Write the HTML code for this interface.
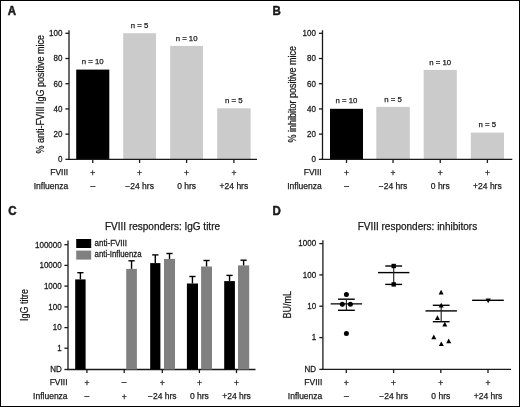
<!DOCTYPE html>
<html><head><meta charset="utf-8"><style>
html,body{margin:0;padding:0;background:#fff;}
#f{position:relative;width:518px;height:405px;border:1px solid #000;overflow:hidden;background:#fff;}
svg{position:absolute;left:-1px;top:-1px;filter:grayscale(1);}
svg text{font-family:"Liberation Sans", sans-serif;fill:#1a1a1a;stroke:#1a1a1a;stroke-width:0.25px;font-variant-ligatures:none;font-kerning:none;}
</style></head><body><div id="f">
<svg width="520" height="407" viewBox="0 0 520 407">
<text transform="translate(7.8,14.8) scale(1.0,1.05)" font-size="11.5" text-anchor="start" font-weight="bold" style="stroke-width:0.45px">A</text>
<text transform="translate(272.4,14.8) scale(1.0,1.05)" font-size="11.5" text-anchor="start" font-weight="bold" style="stroke-width:0.45px">B</text>
<text transform="translate(8.2,214.8) scale(1.0,1.05)" font-size="11.5" text-anchor="start" font-weight="bold" style="stroke-width:0.45px">C</text>
<text transform="translate(272.4,214.8) scale(1.0,1.05)" font-size="11.5" text-anchor="start" font-weight="bold" style="stroke-width:0.45px">D</text>
<rect x="76.2" y="69.6" width="33.1" height="89.75" fill="#000"/>
<text transform="translate(92.75,64.2) scale(1.0,1.0)" font-size="7.8" text-anchor="middle" font-weight="normal" >n = 10</text>
<rect x="123.2" y="33.2" width="32.8" height="126.15" fill="#cbcbcb"/>
<text transform="translate(139.6,27.8) scale(1.0,1.0)" font-size="7.8" text-anchor="middle" font-weight="normal" >n = 5</text>
<rect x="170.2" y="45.9" width="32.8" height="113.45" fill="#cbcbcb"/>
<text transform="translate(186.6,40.5) scale(1.0,1.0)" font-size="7.8" text-anchor="middle" font-weight="normal" >n = 10</text>
<rect x="217.2" y="108.3" width="33.4" height="51.05" fill="#cbcbcb"/>
<text transform="translate(233.9,102.9) scale(1.0,1.0)" font-size="7.8" text-anchor="middle" font-weight="normal" >n = 5</text>
<line x1="69" y1="30.3" x2="69" y2="159.85" stroke="#1a1a1a" stroke-width="1.3"/>
<line x1="65.4" y1="159.35" x2="69" y2="159.35" stroke="#1a1a1a" stroke-width="1.3"/>
<text transform="translate(62.4,162.15) scale(1.0,1.05)" font-size="8" text-anchor="end" font-weight="normal" >0</text>
<line x1="65.4" y1="134.14" x2="69" y2="134.14" stroke="#1a1a1a" stroke-width="1.3"/>
<text transform="translate(62.4,136.94) scale(1.0,1.05)" font-size="8" text-anchor="end" font-weight="normal" >20</text>
<line x1="65.4" y1="108.93" x2="69" y2="108.93" stroke="#1a1a1a" stroke-width="1.3"/>
<text transform="translate(62.4,111.73) scale(1.0,1.05)" font-size="8" text-anchor="end" font-weight="normal" >40</text>
<line x1="65.4" y1="83.72" x2="69" y2="83.72" stroke="#1a1a1a" stroke-width="1.3"/>
<text transform="translate(62.4,86.52) scale(1.0,1.05)" font-size="8" text-anchor="end" font-weight="normal" >60</text>
<line x1="65.4" y1="58.51" x2="69" y2="58.51" stroke="#1a1a1a" stroke-width="1.3"/>
<text transform="translate(62.4,61.31) scale(1.0,1.05)" font-size="8" text-anchor="end" font-weight="normal" >80</text>
<line x1="65.4" y1="33.3" x2="69" y2="33.3" stroke="#1a1a1a" stroke-width="1.3"/>
<text transform="translate(62.4,36.1) scale(1.0,1.05)" font-size="8" text-anchor="end" font-weight="normal" >100</text>
<line x1="68.4" y1="159.35" x2="257" y2="159.35" stroke="#1a1a1a" stroke-width="1.3"/>
<line x1="92.75" y1="159.35" x2="92.75" y2="162.95" stroke="#1a1a1a" stroke-width="1.3"/>
<text transform="translate(92.75,176.0) scale(1.0,1.0)" font-size="8.5" text-anchor="middle" font-weight="normal" >+</text>
<text transform="translate(92.75,188.6) scale(1.0,1.0)" font-size="8.5" text-anchor="middle" font-weight="normal" >–</text>
<line x1="139.6" y1="159.35" x2="139.6" y2="162.95" stroke="#1a1a1a" stroke-width="1.3"/>
<text transform="translate(139.6,176.0) scale(1.0,1.0)" font-size="8.5" text-anchor="middle" font-weight="normal" >+</text>
<text transform="translate(139.6,188.6) scale(1.0,1.0)" font-size="8.5" text-anchor="middle" font-weight="normal" >−24 hrs</text>
<line x1="186.6" y1="159.35" x2="186.6" y2="162.95" stroke="#1a1a1a" stroke-width="1.3"/>
<text transform="translate(186.6,176.0) scale(1.0,1.0)" font-size="8.5" text-anchor="middle" font-weight="normal" >+</text>
<text transform="translate(186.6,188.6) scale(1.0,1.0)" font-size="8.5" text-anchor="middle" font-weight="normal" >0 hrs</text>
<line x1="233.9" y1="159.35" x2="233.9" y2="162.95" stroke="#1a1a1a" stroke-width="1.3"/>
<text transform="translate(233.9,176.0) scale(1.0,1.0)" font-size="8.5" text-anchor="middle" font-weight="normal" >+</text>
<text transform="translate(233.9,188.6) scale(1.0,1.0)" font-size="8.5" text-anchor="middle" font-weight="normal" >+24 hrs</text>
<text transform="translate(68.2,175.0) scale(1.0,1.0)" font-size="8.5" text-anchor="end" font-weight="normal" >FVIII</text>
<text transform="translate(68.2,188.6) scale(1.0,1.0)" font-size="8.5" text-anchor="end" font-weight="normal" >Influenza</text>
<text transform="translate(43.8,94.2) rotate(-90) scale(0.9,1)" font-size="10" text-anchor="middle">% anti-FVIII IgG positive mice</text>
<rect x="330.0" y="108.8" width="33.0" height="50.55" fill="#000"/>
<text transform="translate(346.5,103.4) scale(1.0,1.0)" font-size="7.8" text-anchor="middle" font-weight="normal" >n = 10</text>
<rect x="376.3" y="106.9" width="33.5" height="52.45" fill="#cbcbcb"/>
<text transform="translate(393.05,101.5) scale(1.0,1.0)" font-size="7.8" text-anchor="middle" font-weight="normal" >n = 5</text>
<rect x="423.7" y="69.9" width="33.1" height="89.45" fill="#cbcbcb"/>
<text transform="translate(440.25,64.5) scale(1.0,1.0)" font-size="7.8" text-anchor="middle" font-weight="normal" >n = 10</text>
<rect x="470.8" y="132.6" width="33.2" height="26.75" fill="#cbcbcb"/>
<text transform="translate(487.4,127.2) scale(1.0,1.0)" font-size="7.8" text-anchor="middle" font-weight="normal" >n = 5</text>
<line x1="322.5" y1="30.3" x2="322.5" y2="159.85" stroke="#1a1a1a" stroke-width="1.3"/>
<line x1="318.9" y1="159.35" x2="322.5" y2="159.35" stroke="#1a1a1a" stroke-width="1.3"/>
<text transform="translate(315.9,162.15) scale(1.0,1.05)" font-size="8" text-anchor="end" font-weight="normal" >0</text>
<line x1="318.9" y1="134.14" x2="322.5" y2="134.14" stroke="#1a1a1a" stroke-width="1.3"/>
<text transform="translate(315.9,136.94) scale(1.0,1.05)" font-size="8" text-anchor="end" font-weight="normal" >20</text>
<line x1="318.9" y1="108.93" x2="322.5" y2="108.93" stroke="#1a1a1a" stroke-width="1.3"/>
<text transform="translate(315.9,111.73) scale(1.0,1.05)" font-size="8" text-anchor="end" font-weight="normal" >40</text>
<line x1="318.9" y1="83.72" x2="322.5" y2="83.72" stroke="#1a1a1a" stroke-width="1.3"/>
<text transform="translate(315.9,86.52) scale(1.0,1.05)" font-size="8" text-anchor="end" font-weight="normal" >60</text>
<line x1="318.9" y1="58.51" x2="322.5" y2="58.51" stroke="#1a1a1a" stroke-width="1.3"/>
<text transform="translate(315.9,61.31) scale(1.0,1.05)" font-size="8" text-anchor="end" font-weight="normal" >80</text>
<line x1="318.9" y1="33.3" x2="322.5" y2="33.3" stroke="#1a1a1a" stroke-width="1.3"/>
<text transform="translate(315.9,36.1) scale(1.0,1.05)" font-size="8" text-anchor="end" font-weight="normal" >100</text>
<line x1="321.9" y1="159.35" x2="512.3" y2="159.35" stroke="#1a1a1a" stroke-width="1.3"/>
<line x1="346.5" y1="159.35" x2="346.5" y2="162.95" stroke="#1a1a1a" stroke-width="1.3"/>
<text transform="translate(346.5,176.0) scale(1.0,1.0)" font-size="8.5" text-anchor="middle" font-weight="normal" >+</text>
<text transform="translate(346.5,188.6) scale(1.0,1.0)" font-size="8.5" text-anchor="middle" font-weight="normal" >–</text>
<line x1="393.05" y1="159.35" x2="393.05" y2="162.95" stroke="#1a1a1a" stroke-width="1.3"/>
<text transform="translate(393.05,176.0) scale(1.0,1.0)" font-size="8.5" text-anchor="middle" font-weight="normal" >+</text>
<text transform="translate(393.05,188.6) scale(1.0,1.0)" font-size="8.5" text-anchor="middle" font-weight="normal" >−24 hrs</text>
<line x1="440.25" y1="159.35" x2="440.25" y2="162.95" stroke="#1a1a1a" stroke-width="1.3"/>
<text transform="translate(440.25,176.0) scale(1.0,1.0)" font-size="8.5" text-anchor="middle" font-weight="normal" >+</text>
<text transform="translate(440.25,188.6) scale(1.0,1.0)" font-size="8.5" text-anchor="middle" font-weight="normal" >0 hrs</text>
<line x1="487.4" y1="159.35" x2="487.4" y2="162.95" stroke="#1a1a1a" stroke-width="1.3"/>
<text transform="translate(487.4,176.0) scale(1.0,1.0)" font-size="8.5" text-anchor="middle" font-weight="normal" >+</text>
<text transform="translate(487.4,188.6) scale(1.0,1.0)" font-size="8.5" text-anchor="middle" font-weight="normal" >+24 hrs</text>
<text transform="translate(321.7,175.0) scale(1.0,1.0)" font-size="8.5" text-anchor="end" font-weight="normal" >FVIII</text>
<text transform="translate(321.7,188.6) scale(1.0,1.0)" font-size="8.5" text-anchor="end" font-weight="normal" >Influenza</text>
<text transform="translate(295.8,94.2) rotate(-90) scale(0.9,1)" font-size="10" text-anchor="middle">% inhibitor positive mice</text>
<line x1="68.0" y1="240.6" x2="68.0" y2="370.0" stroke="#1a1a1a" stroke-width="1.3"/>
<line x1="64.4" y1="244.7" x2="68.0" y2="244.7" stroke="#1a1a1a" stroke-width="1.3"/>
<text transform="translate(61.7,247.5) scale(1.0,1.05)" font-size="8" text-anchor="end" font-weight="normal" >100000</text>
<line x1="64.4" y1="265.4" x2="68.0" y2="265.4" stroke="#1a1a1a" stroke-width="1.3"/>
<text transform="translate(61.7,268.2) scale(1.0,1.05)" font-size="8" text-anchor="end" font-weight="normal" >10000</text>
<line x1="64.4" y1="286.1" x2="68.0" y2="286.1" stroke="#1a1a1a" stroke-width="1.3"/>
<text transform="translate(61.7,288.9) scale(1.0,1.05)" font-size="8" text-anchor="end" font-weight="normal" >1000</text>
<line x1="64.4" y1="306.9" x2="68.0" y2="306.9" stroke="#1a1a1a" stroke-width="1.3"/>
<text transform="translate(61.7,309.7) scale(1.0,1.05)" font-size="8" text-anchor="end" font-weight="normal" >100</text>
<line x1="64.4" y1="327.6" x2="68.0" y2="327.6" stroke="#1a1a1a" stroke-width="1.3"/>
<text transform="translate(61.7,330.4) scale(1.0,1.05)" font-size="8" text-anchor="end" font-weight="normal" >10</text>
<line x1="64.4" y1="348.2" x2="68.0" y2="348.2" stroke="#1a1a1a" stroke-width="1.3"/>
<text transform="translate(61.7,351.0) scale(1.0,1.05)" font-size="8" text-anchor="end" font-weight="normal" >1</text>
<line x1="64.4" y1="369.5" x2="68.0" y2="369.5" stroke="#1a1a1a" stroke-width="1.3"/>
<text transform="translate(61.7,372.3) scale(1.0,1.05)" font-size="8" text-anchor="end" font-weight="normal" >ND</text>
<line x1="67.4" y1="369.5" x2="255.5" y2="369.5" stroke="#1a1a1a" stroke-width="1.3"/>
<line x1="86.9" y1="369.5" x2="86.9" y2="373.1" stroke="#1a1a1a" stroke-width="1.3"/>
<text transform="translate(86.9,386.1) scale(1.0,1.0)" font-size="8.5" text-anchor="middle" font-weight="normal" >+</text>
<text transform="translate(86.9,398.8) scale(1.0,1.0)" font-size="8.5" text-anchor="middle" font-weight="normal" >–</text>
<line x1="124.2" y1="369.5" x2="124.2" y2="373.1" stroke="#1a1a1a" stroke-width="1.3"/>
<text transform="translate(124.2,385.1) scale(1.0,1.0)" font-size="8.5" text-anchor="middle" font-weight="normal" >–</text>
<text transform="translate(124.2,399.8) scale(1.0,1.0)" font-size="8.5" text-anchor="middle" font-weight="normal" >+</text>
<line x1="162.3" y1="369.5" x2="162.3" y2="373.1" stroke="#1a1a1a" stroke-width="1.3"/>
<text transform="translate(162.3,386.1) scale(1.0,1.0)" font-size="8.5" text-anchor="middle" font-weight="normal" >+</text>
<text transform="translate(162.3,398.8) scale(1.0,1.0)" font-size="8.5" text-anchor="middle" font-weight="normal" >−24 hrs</text>
<line x1="199.4" y1="369.5" x2="199.4" y2="373.1" stroke="#1a1a1a" stroke-width="1.3"/>
<text transform="translate(199.4,386.1) scale(1.0,1.0)" font-size="8.5" text-anchor="middle" font-weight="normal" >+</text>
<text transform="translate(199.4,398.8) scale(1.0,1.0)" font-size="8.5" text-anchor="middle" font-weight="normal" >0 hrs</text>
<line x1="236.5" y1="369.5" x2="236.5" y2="373.1" stroke="#1a1a1a" stroke-width="1.3"/>
<text transform="translate(236.5,386.1) scale(1.0,1.0)" font-size="8.5" text-anchor="middle" font-weight="normal" >+</text>
<text transform="translate(236.5,398.8) scale(1.0,1.0)" font-size="8.5" text-anchor="middle" font-weight="normal" >+24 hrs</text>
<text transform="translate(67.6,385.1) scale(1.0,1.0)" font-size="8.5" text-anchor="end" font-weight="normal" >FVIII</text>
<text transform="translate(67.6,398.8) scale(1.0,1.0)" font-size="8.5" text-anchor="end" font-weight="normal" >Influenza</text>
<rect x="75.2" y="279.4" width="10.4" height="90.1" fill="#000"/>
<line x1="80.4" y1="279.4" x2="80.4" y2="272.7" stroke="#000" stroke-width="1.4"/>
<line x1="77.3" y1="272.7" x2="83.5" y2="272.7" stroke="#000" stroke-width="1.4"/>
<rect x="126.2" y="268.9" width="10.7" height="100.6" fill="#808080"/>
<line x1="131.55" y1="268.9" x2="131.55" y2="260.8" stroke="#000" stroke-width="1.4"/>
<line x1="128.45" y1="260.8" x2="134.65" y2="260.8" stroke="#000" stroke-width="1.4"/>
<rect x="150.2" y="263.1" width="10.2" height="106.4" fill="#000"/>
<line x1="155.3" y1="263.1" x2="155.3" y2="254.9" stroke="#000" stroke-width="1.4"/>
<line x1="152.2" y1="254.9" x2="158.4" y2="254.9" stroke="#000" stroke-width="1.4"/>
<rect x="164.0" y="258.9" width="11.0" height="110.6" fill="#808080"/>
<line x1="169.5" y1="258.9" x2="169.5" y2="253.5" stroke="#000" stroke-width="1.4"/>
<line x1="166.4" y1="253.5" x2="172.6" y2="253.5" stroke="#000" stroke-width="1.4"/>
<rect x="186.9" y="283.5" width="11.1" height="86.0" fill="#000"/>
<line x1="192.45" y1="283.5" x2="192.45" y2="276.5" stroke="#000" stroke-width="1.4"/>
<line x1="189.35" y1="276.5" x2="195.55" y2="276.5" stroke="#000" stroke-width="1.4"/>
<rect x="201.1" y="266.5" width="10.9" height="103.0" fill="#808080"/>
<line x1="206.55" y1="266.5" x2="206.55" y2="260.5" stroke="#000" stroke-width="1.4"/>
<line x1="203.45" y1="260.5" x2="209.65" y2="260.5" stroke="#000" stroke-width="1.4"/>
<rect x="224.2" y="281.1" width="10.7" height="88.4" fill="#000"/>
<line x1="229.55" y1="281.1" x2="229.55" y2="275.4" stroke="#000" stroke-width="1.4"/>
<line x1="226.45" y1="275.4" x2="232.65" y2="275.4" stroke="#000" stroke-width="1.4"/>
<rect x="238.0" y="265.4" width="11.2" height="104.1" fill="#808080"/>
<line x1="243.6" y1="265.4" x2="243.6" y2="260.2" stroke="#000" stroke-width="1.4"/>
<line x1="240.5" y1="260.2" x2="246.7" y2="260.2" stroke="#000" stroke-width="1.4"/>
<rect x="76.2" y="239" width="15.0" height="9" fill="#000"/>
<rect x="76.2" y="250.6" width="15.0" height="9" fill="#808080"/>
<text transform="translate(94.6,245.7) scale(1.0,1.05)" font-size="8" text-anchor="start" font-weight="normal" >anti-FVIII</text>
<text transform="translate(94.6,257.2) scale(0.98,1.05)" font-size="8" text-anchor="start" font-weight="normal" >anti-Influenza</text>
<text transform="translate(162.5,229.7) scale(1.0,1.0)" font-size="10" text-anchor="middle" font-weight="normal" >FVIII responders: IgG titre</text>
<text transform="translate(27.7,305.0) rotate(-90) scale(0.9,1)" font-size="10" text-anchor="middle">IgG titre</text>
<line x1="322.9" y1="240.3" x2="322.9" y2="369.9" stroke="#1a1a1a" stroke-width="1.3"/>
<line x1="319.3" y1="243.6" x2="322.9" y2="243.6" stroke="#1a1a1a" stroke-width="1.3"/>
<text transform="translate(316.1,246.4) scale(1.0,1.05)" font-size="8" text-anchor="end" font-weight="normal" >1000</text>
<line x1="319.3" y1="274.9" x2="322.9" y2="274.9" stroke="#1a1a1a" stroke-width="1.3"/>
<text transform="translate(316.1,277.7) scale(1.0,1.05)" font-size="8" text-anchor="end" font-weight="normal" >100</text>
<line x1="319.3" y1="306.2" x2="322.9" y2="306.2" stroke="#1a1a1a" stroke-width="1.3"/>
<text transform="translate(316.1,309.0) scale(1.0,1.05)" font-size="8" text-anchor="end" font-weight="normal" >10</text>
<line x1="319.3" y1="337.6" x2="322.9" y2="337.6" stroke="#1a1a1a" stroke-width="1.3"/>
<text transform="translate(316.1,340.4) scale(1.0,1.05)" font-size="8" text-anchor="end" font-weight="normal" >1</text>
<line x1="319.3" y1="369.4" x2="322.9" y2="369.4" stroke="#1a1a1a" stroke-width="1.3"/>
<text transform="translate(316.1,372.2) scale(1.0,1.05)" font-size="8" text-anchor="end" font-weight="normal" >ND</text>
<line x1="322.3" y1="369.4" x2="511" y2="369.4" stroke="#1a1a1a" stroke-width="1.3"/>
<line x1="346.3" y1="369.4" x2="346.3" y2="373.0" stroke="#1a1a1a" stroke-width="1.3"/>
<text transform="translate(346.3,386.1) scale(1.0,1.0)" font-size="8.5" text-anchor="middle" font-weight="normal" >+</text>
<text transform="translate(346.3,398.8) scale(1.0,1.0)" font-size="8.5" text-anchor="middle" font-weight="normal" >–</text>
<line x1="393.6" y1="369.4" x2="393.6" y2="373.0" stroke="#1a1a1a" stroke-width="1.3"/>
<text transform="translate(393.6,386.1) scale(1.0,1.0)" font-size="8.5" text-anchor="middle" font-weight="normal" >+</text>
<text transform="translate(393.6,398.8) scale(1.0,1.0)" font-size="8.5" text-anchor="middle" font-weight="normal" >−24 hrs</text>
<line x1="440.8" y1="369.4" x2="440.8" y2="373.0" stroke="#1a1a1a" stroke-width="1.3"/>
<text transform="translate(440.8,386.1) scale(1.0,1.0)" font-size="8.5" text-anchor="middle" font-weight="normal" >+</text>
<text transform="translate(440.8,398.8) scale(1.0,1.0)" font-size="8.5" text-anchor="middle" font-weight="normal" >0 hrs</text>
<line x1="488.0" y1="369.4" x2="488.0" y2="373.0" stroke="#1a1a1a" stroke-width="1.3"/>
<text transform="translate(488.0,386.1) scale(1.0,1.0)" font-size="8.5" text-anchor="middle" font-weight="normal" >+</text>
<text transform="translate(488.0,398.8) scale(1.0,1.0)" font-size="8.5" text-anchor="middle" font-weight="normal" >+24 hrs</text>
<text transform="translate(322.3,385.1) scale(1.0,1.0)" font-size="8.5" text-anchor="end" font-weight="normal" >FVIII</text>
<text transform="translate(322.3,398.8) scale(1.0,1.0)" font-size="8.5" text-anchor="end" font-weight="normal" >Influenza</text>
<text transform="translate(417.4,229.8) scale(1.0,1.0)" font-size="10" text-anchor="middle" font-weight="normal" >FVIII responders: inhibitors</text>
<text transform="translate(291.3,304.8) rotate(-90) scale(0.9,1)" font-size="10" text-anchor="middle">BU/mL</text>
<line x1="330.7" y1="303.9" x2="362.1" y2="303.9" stroke="#000" stroke-width="1.4"/>
<line x1="338.0" y1="299.2" x2="354.8" y2="299.2" stroke="#000" stroke-width="1.4"/>
<line x1="338.0" y1="310.3" x2="354.8" y2="310.3" stroke="#000" stroke-width="1.4"/>
<line x1="346.4" y1="299.2" x2="346.4" y2="310.3" stroke="#222" stroke-width="1.15"/>
<circle cx="346.4" cy="294.5" r="2.5" fill="#000"/>
<circle cx="342.3" cy="304.3" r="2.5" fill="#000"/>
<circle cx="350.4" cy="304.3" r="2.5" fill="#000"/>
<circle cx="346.4" cy="333.6" r="2.5" fill="#000"/>
<line x1="378.0" y1="272.6" x2="409.4" y2="272.6" stroke="#000" stroke-width="1.4"/>
<line x1="385.3" y1="266.0" x2="402.1" y2="266.0" stroke="#000" stroke-width="1.4"/>
<line x1="385.3" y1="284.4" x2="402.1" y2="284.4" stroke="#000" stroke-width="1.4"/>
<line x1="393.7" y1="266.0" x2="393.7" y2="284.4" stroke="#222" stroke-width="1.15"/>
<rect x="391.5" y="263.8" width="4.4" height="4.4" fill="#000"/>
<rect x="391.5" y="282.2" width="4.4" height="4.4" fill="#000"/>
<line x1="425.5" y1="310.9" x2="456.9" y2="310.9" stroke="#000" stroke-width="1.4"/>
<line x1="432.8" y1="305.3" x2="449.6" y2="305.3" stroke="#000" stroke-width="1.4"/>
<line x1="432.8" y1="321.7" x2="449.6" y2="321.7" stroke="#000" stroke-width="1.4"/>
<line x1="441.2" y1="305.3" x2="441.2" y2="321.7" stroke="#222" stroke-width="1.15"/>
<path d="M438.6,294.5 L443.6,294.5 L441.1,289.8 Z" fill="#000"/>
<path d="M438.7,307.5 L443.7,307.5 L441.2,302.8 Z" fill="#000"/>
<path d="M434.9,320.0 L439.9,320.0 L437.4,315.3 Z" fill="#000"/>
<path d="M442.3,326.5 L447.3,326.5 L444.8,321.8 Z" fill="#000"/>
<path d="M431.3,339.3 L436.3,339.3 L433.8,334.6 Z" fill="#000"/>
<path d="M438.8,346.1 L443.8,346.1 L441.3,341.4 Z" fill="#000"/>
<path d="M446.2,343.2 L451.2,343.2 L448.7,338.5 Z" fill="#000"/>
<line x1="472.1" y1="300.3" x2="503.8" y2="300.3" stroke="#000" stroke-width="1.4"/>
<path d="M485.6,298.6 L490.8,298.6 L488.2,303.2 Z" fill="#000"/>
</svg></div></body></html>
